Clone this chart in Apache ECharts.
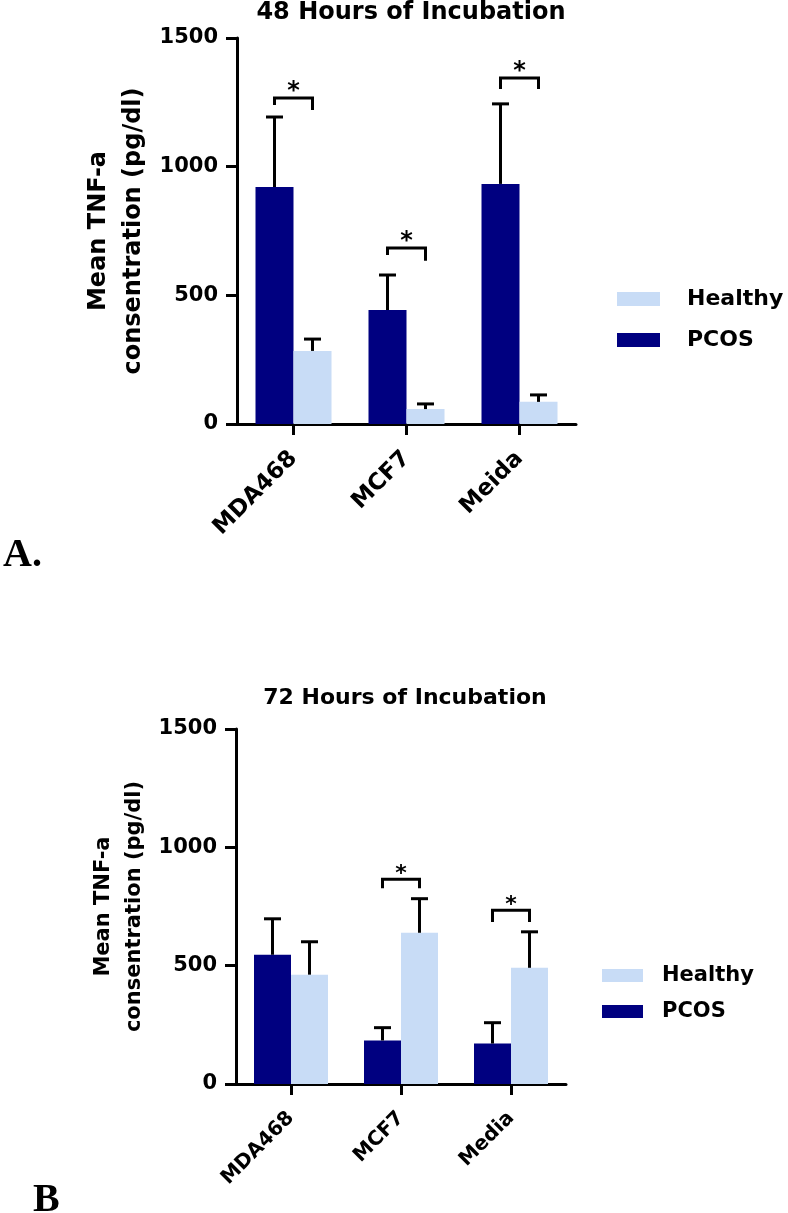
<!DOCTYPE html>
<html>
<head>
<meta charset="utf-8">
<script src="https://cdn.jsdelivr.net/npm/echarts@6/dist/echarts.min.js"></script>
<style>html,body{margin:0;padding:0;background:#fff;}#c{width:788px;height:1213px;}</style>
</head>
<body>
<div id="c"></div>
<script>
// ---- data ----
const categoriesA = ['MDA468', 'MCF7', 'Meida'];
const categoriesB = ['MDA468', 'MCF7', 'Media'];
const seriesNames = ['Healthy', 'PCOS'];
// 48 h
const pcosA = [921, 443, 933];
const pcosSdA = [272, 136, 311];
const healthyA = [284, 58, 86];
const healthySdA = [46, 20, 27];
// 72 h
const pcosB = [546, 184, 171];
const pcosSdB = [152, 54, 88];
const healthyB = [462, 639, 491];
const healthySdB = [139, 144, 152];
// significance brackets: [category, bracket level, left leg end, right leg end]
const sigA = [[0, 1267, 1240, 1220], [1, 684, 657, 634], [2, 1345, 1302, 1302]];
const sigB = [[1, 865, 827, 827], [2, 734, 685, 685]];
const yTicks = [0, 500, 1000, 1500];

const FONT = 'DejaVu Sans';
const DARK = '#000080';
const LIGHT = '#c8dcf6';
const BW = [38, 37];

function errSeries(g, means, sds, sign) {
  return {
    type: 'custom', xAxisIndex: g, yAxisIndex: g, z: 5, silent: true,
    name: 'err' + g + sign,
    data: means.map((m, i) => [i, m, m + sds[i]]),
    encode: { x: 0, y: [1, 2] },
    renderItem: function (params, api) {
      const b = api.coord([api.value(0), api.value(1)]);
      const t = api.coord([api.value(0), api.value(2)]);
      const x = b[0] + sign * BW[g] / 2;
      const cap = 17;
      return {
        type: 'group', children: [
          { type: 'line', shape: { x1: x, y1: b[1], x2: x, y2: t[1] }, style: { stroke: '#000', lineWidth: 3 } },
          { type: 'line', shape: { x1: x - cap / 2, y1: t[1], x2: x + cap / 2, y2: t[1] }, style: { stroke: '#000', lineWidth: 3 } }
        ]
      };
    }
  };
}
function sigSeries(g, sig, fs) {
  return {
    type: 'custom', xAxisIndex: g, yAxisIndex: g, z: 6, silent: true,
    name: 'sig' + g,
    data: sig,
    encode: { x: 0, y: [1, 2, 3] },
    renderItem: function (params, api) {
      const c = api.coord([api.value(0), api.value(1)]);
      const yl = api.coord([api.value(0), api.value(2)])[1];
      const yr = api.coord([api.value(0), api.value(3)])[1];
      const xl = c[0] - BW[g] / 2, xr = c[0] + BW[g] / 2;
      return {
        type: 'group', children: [
          { type: 'polyline', shape: { points: [[xl, yl], [xl, c[1]], [xr, c[1]], [xr, yr]] },
            style: { stroke: '#000', lineWidth: 3, fill: null, lineJoin: 'miter' } },
          { type: 'text', style: { text: '*', x: c[0], y: c[1] + 6, align: 'center', verticalAlign: 'bottom',
            font: 'bold ' + fs + 'px "' + FONT + '"', fill: '#000' } }
        ]
      };
    }
  };
}

function yAxisCfg(g, nameFs, lh, gap) {
  return {
    gridIndex: g, type: 'value', min: yTicks[0], max: yTicks[yTicks.length - 1], interval: yTicks[1] - yTicks[0],
    splitLine: { show: false },
    axisLine: { show: true, lineStyle: { color: '#000', width: 3 } },
    axisTick: { show: true, length: 11, lineStyle: { color: '#000', width: 3 } },
    axisLabel: { color: '#000', fontFamily: FONT, fontWeight: 'bold', fontSize: 21, margin: 19,
      formatter: function (v) { return String(v); } },
    name: 'Mean TNF-a\nconsentration (pg/dl)', nameLocation: 'middle', nameRotate: 90, nameGap: gap,
    nameTextStyle: { color: '#000', fontFamily: FONT, fontWeight: 'bold', fontSize: nameFs, lineHeight: lh }
  };
}
function xAxisCfg(g, cats, fs, margin) {
  return {
    gridIndex: g, type: 'category', data: cats,
    axisLine: { show: true, lineStyle: { color: '#000', width: 3 } },
    axisTick: { show: true, alignWithLabel: true, length: 11, lineStyle: { color: '#000', width: 3 } },
    axisLabel: { color: '#000', fontFamily: FONT, fontWeight: 'bold', fontSize: fs, rotate: 45, margin: margin, interval: 0 }
  };
}

const chart = echarts.init(document.getElementById('c'), null, { renderer: 'canvas' });
chart.setOption({
  animation: false,
  backgroundColor: '#fff',
  title: [
    { text: '48 Hours of Incubation', left: 406, top: -4, textAlign: 'center',
      textStyle: { fontFamily: FONT, fontWeight: 'bold', fontSize: 24, color: '#000' } },
    { text: '72 Hours of Incubation', left: 400, top: 682, textAlign: 'center',
      textStyle: { fontFamily: FONT, fontWeight: 'bold', fontSize: 22, color: '#000' } },
    { text: 'A.', left: -2, top: 531, textStyle: { fontFamily: 'Liberation Serif', fontWeight: 'bold', fontSize: 40, color: '#000' } },
    { text: 'B', left: 28, top: 1176, textStyle: { fontFamily: 'Liberation Serif', fontWeight: 'bold', fontSize: 40, color: '#000' } }
  ],
  legend: [
    { data: seriesNames, orient: 'vertical', left: 617, top: 288, padding: 0, itemWidth: 43, itemHeight: 14, itemGap: 19,
      icon: 'rect', selectedMode: false,
      textStyle: { fontFamily: FONT, fontWeight: 'bold', fontSize: 22, color: '#000', padding: [0, 0, 0, 22] } },
    { data: seriesNames, orient: 'vertical', left: 602, top: 965, padding: 0, itemWidth: 41, itemHeight: 13, itemGap: 15,
      icon: 'rect', selectedMode: false,
      textStyle: { fontFamily: FONT, fontWeight: 'bold', fontSize: 21, color: '#000', padding: [0, 0, 0, 14] } }
  ],
  grid: [
    { left: 237, top: 38, width: 339, height: 386 },
    { left: 236, top: 729, width: 330, height: 355 }
  ],
  xAxis: [xAxisCfg(0, categoriesA, 23, 31), xAxisCfg(1, categoriesB, 20, 31)],
  yAxis: [yAxisCfg(0, 24, 35, 86), yAxisCfg(1, 21, 31, 86)],
  series: [
    { name: 'PCOS', type: 'bar', xAxisIndex: 0, yAxisIndex: 0, data: pcosA, barWidth: BW[0], barGap: '0%', itemStyle: { color: DARK } },
    { name: 'Healthy', type: 'bar', xAxisIndex: 0, yAxisIndex: 0, data: healthyA, barWidth: BW[0], barGap: '0%', itemStyle: { color: LIGHT } },
    { name: 'PCOS', type: 'bar', xAxisIndex: 1, yAxisIndex: 1, data: pcosB, barWidth: BW[1], barGap: '0%', itemStyle: { color: DARK } },
    { name: 'Healthy', type: 'bar', xAxisIndex: 1, yAxisIndex: 1, data: healthyB, barWidth: BW[1], barGap: '0%', itemStyle: { color: LIGHT } },
    errSeries(0, pcosA, pcosSdA, -1),
    errSeries(0, healthyA, healthySdA, 1),
    errSeries(1, pcosB, pcosSdB, -1),
    errSeries(1, healthyB, healthySdB, 1),
    sigSeries(0, sigA, 24),
    sigSeries(1, sigB, 22)
  ]
});
</script>
</body>
</html>
